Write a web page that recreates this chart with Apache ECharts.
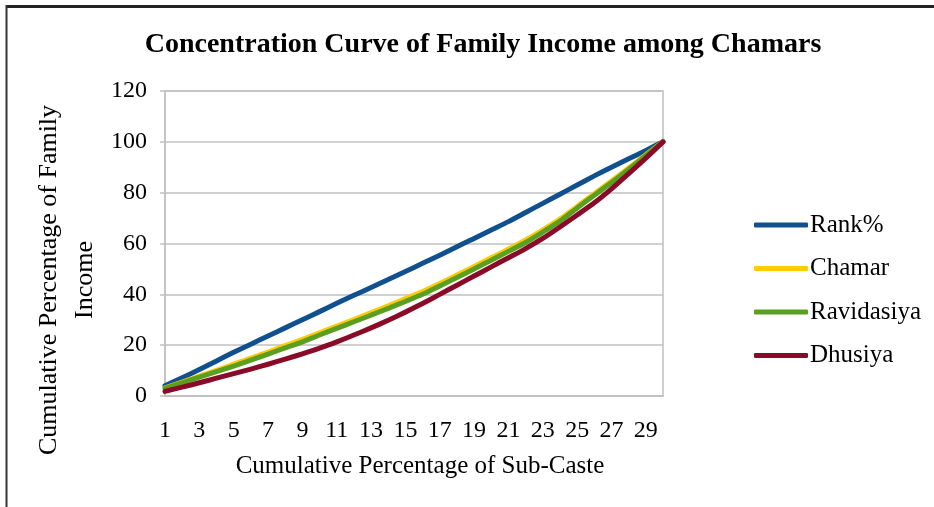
<!DOCTYPE html>
<html>
<head>
<meta charset="utf-8">
<script src="https://cdn.jsdelivr.net/npm/echarts@6/dist/echarts.min.js"></script>
<style>
  html, body { margin: 0; padding: 0; background: #fff; }
  #chart { width: 934px; height: 507px; }
</style>
</head>
<body>
<div id="chart"></div>
<script>
// Cumulative percentage of sub-caste (x categories)
const categories = ['1','2','3','4','5','6','7','8','9','10','11','12','13','14','15',
  '16','17','18','19','20','21','22','23','24','25','26','27','28','29','30'];

// Line of equality (rank %)
const rankPct = [4.0, 7.2, 10.4, 13.8, 17.2, 20.4, 23.6, 26.8, 30.0, 33.2,
  36.5, 39.6, 42.7, 45.8, 49.0, 52.2, 55.4, 58.7, 62.0, 65.3,
  68.6, 72.2, 75.8, 79.4, 83.0, 86.6, 90.0, 93.3, 96.6, 100];

// Concentration curves of family income by sub-caste
const chamar = [3.2, 5.5, 7.8, 10.1, 12.5, 14.9, 17.3, 19.8, 22.3, 24.9,
  27.5, 30.1, 32.8, 35.5, 38.3, 41.1, 44.3, 47.6, 51.0, 54.4,
  57.8, 61.4, 65.4, 69.6, 74.6, 79.6, 84.6, 89.7, 94.9, 100];

const ravidasiya = [3.0, 5.2, 7.4, 9.6, 11.8, 14.1, 16.5, 18.9, 21.3, 24.0,
  26.6, 29.2, 31.8, 34.5, 37.2, 40.0, 43.3, 46.6, 50.0, 53.4,
  56.9, 60.4, 64.5, 68.8, 74.0, 79.0, 84.0, 89.2, 94.6, 100];

const dhusiya = [1.8, 3.5, 5.2, 7.0, 8.8, 10.6, 12.5, 14.5, 16.6, 18.8,
  21.3, 24.0, 26.8, 29.8, 33.0, 36.4, 40.0, 43.6, 47.2, 50.8,
  54.4, 58.0, 62.0, 66.5, 71.2, 76.0, 81.5, 87.5, 93.6, 100];

const yTicks = { min: 0, max: 120, interval: 20 };

const FONT = '"Liberation Serif", "Times New Roman", serif';
const colors = { rank: '#11508f', chamar: '#ffcc00', ravidasiya: '#5a9e22', dhusiya: '#8a0b28' };

function lineSeries(name, data, color) {
  return {
    name: name,
    type: 'line',
    data: data,
    symbol: 'none',
    smooth: 0.2,
    lineStyle: { color: color, width: 5, cap: 'round', join: 'round' },
    itemStyle: { color: color }
  };
}

const chart = echarts.init(document.getElementById('chart'), null, { renderer: 'canvas' });

chart.setOption({
  backgroundColor: '#ffffff',
  animation: false,
  title: {
    text: 'Concentration Curve of Family Income among Chamars',
    left: 478,
    top: 26,
    textAlign: 'center',
    textStyle: { fontFamily: FONT, fontWeight: 'bold', fontSize: 28, color: '#000' }
  },
  grid: {
    left: 165, right: 271, top: 91, bottom: 111,
    show: true, borderColor: '#c0c0c0', borderWidth: 1.5, backgroundColor: 'transparent'
  },
  legend: {
    orient: 'vertical',
    left: 749,
    top: 207,
    itemWidth: 54,
    itemHeight: 5,
    itemGap: 17.5,
    icon: 'roundRect',
    textStyle: { fontFamily: FONT, fontSize: 25, color: '#000', lineHeight: 26, padding: [0, 0, 0, -3] },
    data: ['Rank%', 'Chamar', 'Ravidasiya', 'Dhusiya']
  },
  xAxis: {
    type: 'category',
    data: categories,
    boundaryGap: false,
    name: 'Cumulative Percentage of Sub-Caste',
    nameLocation: 'middle',
    nameGap: 58,
    nameTextStyle: { fontFamily: FONT, fontSize: 25, color: '#000', padding: [0, 0, 0, 12] },
    axisLine: { lineStyle: { color: '#c0c0c0', width: 1.5 } },
    axisTick: { show: false },
    axisLabel: { interval: 1, margin: 23, fontFamily: FONT, fontSize: 24, color: '#000' },
    splitLine: { show: false }
  },
  yAxis: {
    type: 'value',
    min: yTicks.min,
    max: yTicks.max,
    interval: yTicks.interval,
    axisLine: { show: true, lineStyle: { color: '#c0c0c0', width: 1.5 } },
    axisTick: { show: true, inside: false, length: 5, lineStyle: { color: '#c0c0c0', width: 1.5 } },
    axisLabel: { margin: 18, fontFamily: FONT, fontSize: 24, color: '#000' },
    splitLine: { lineStyle: { color: '#c0c0c0', width: 1.5 } }
  },
  graphic: [
    {
      type: 'text',
      x: 67, y: 280,
      rotation: Math.PI / 2,
      style: {
        text: 'Cumulative Percentage of Family\nIncome',
        fontFamily: FONT, fontSize: 26, lineHeight: 36,
        fill: '#000', align: 'center', verticalAlign: 'middle'
      }
    },
    { type: 'line', shape: { x1: 6, y1: 6.5, x2: 934, y2: 6.5 }, style: { stroke: '#222', lineWidth: 3 } },
    { type: 'line', shape: { x1: 6.5, y1: 5, x2: 6.5, y2: 507 }, style: { stroke: '#333', lineWidth: 2 } }
  ],
  series: [
    lineSeries('Rank%', rankPct, colors.rank),
    lineSeries('Chamar', chamar, colors.chamar),
    lineSeries('Ravidasiya', ravidasiya, colors.ravidasiya),
    lineSeries('Dhusiya', dhusiya, colors.dhusiya)
  ]
});
</script>
</body>
</html>
